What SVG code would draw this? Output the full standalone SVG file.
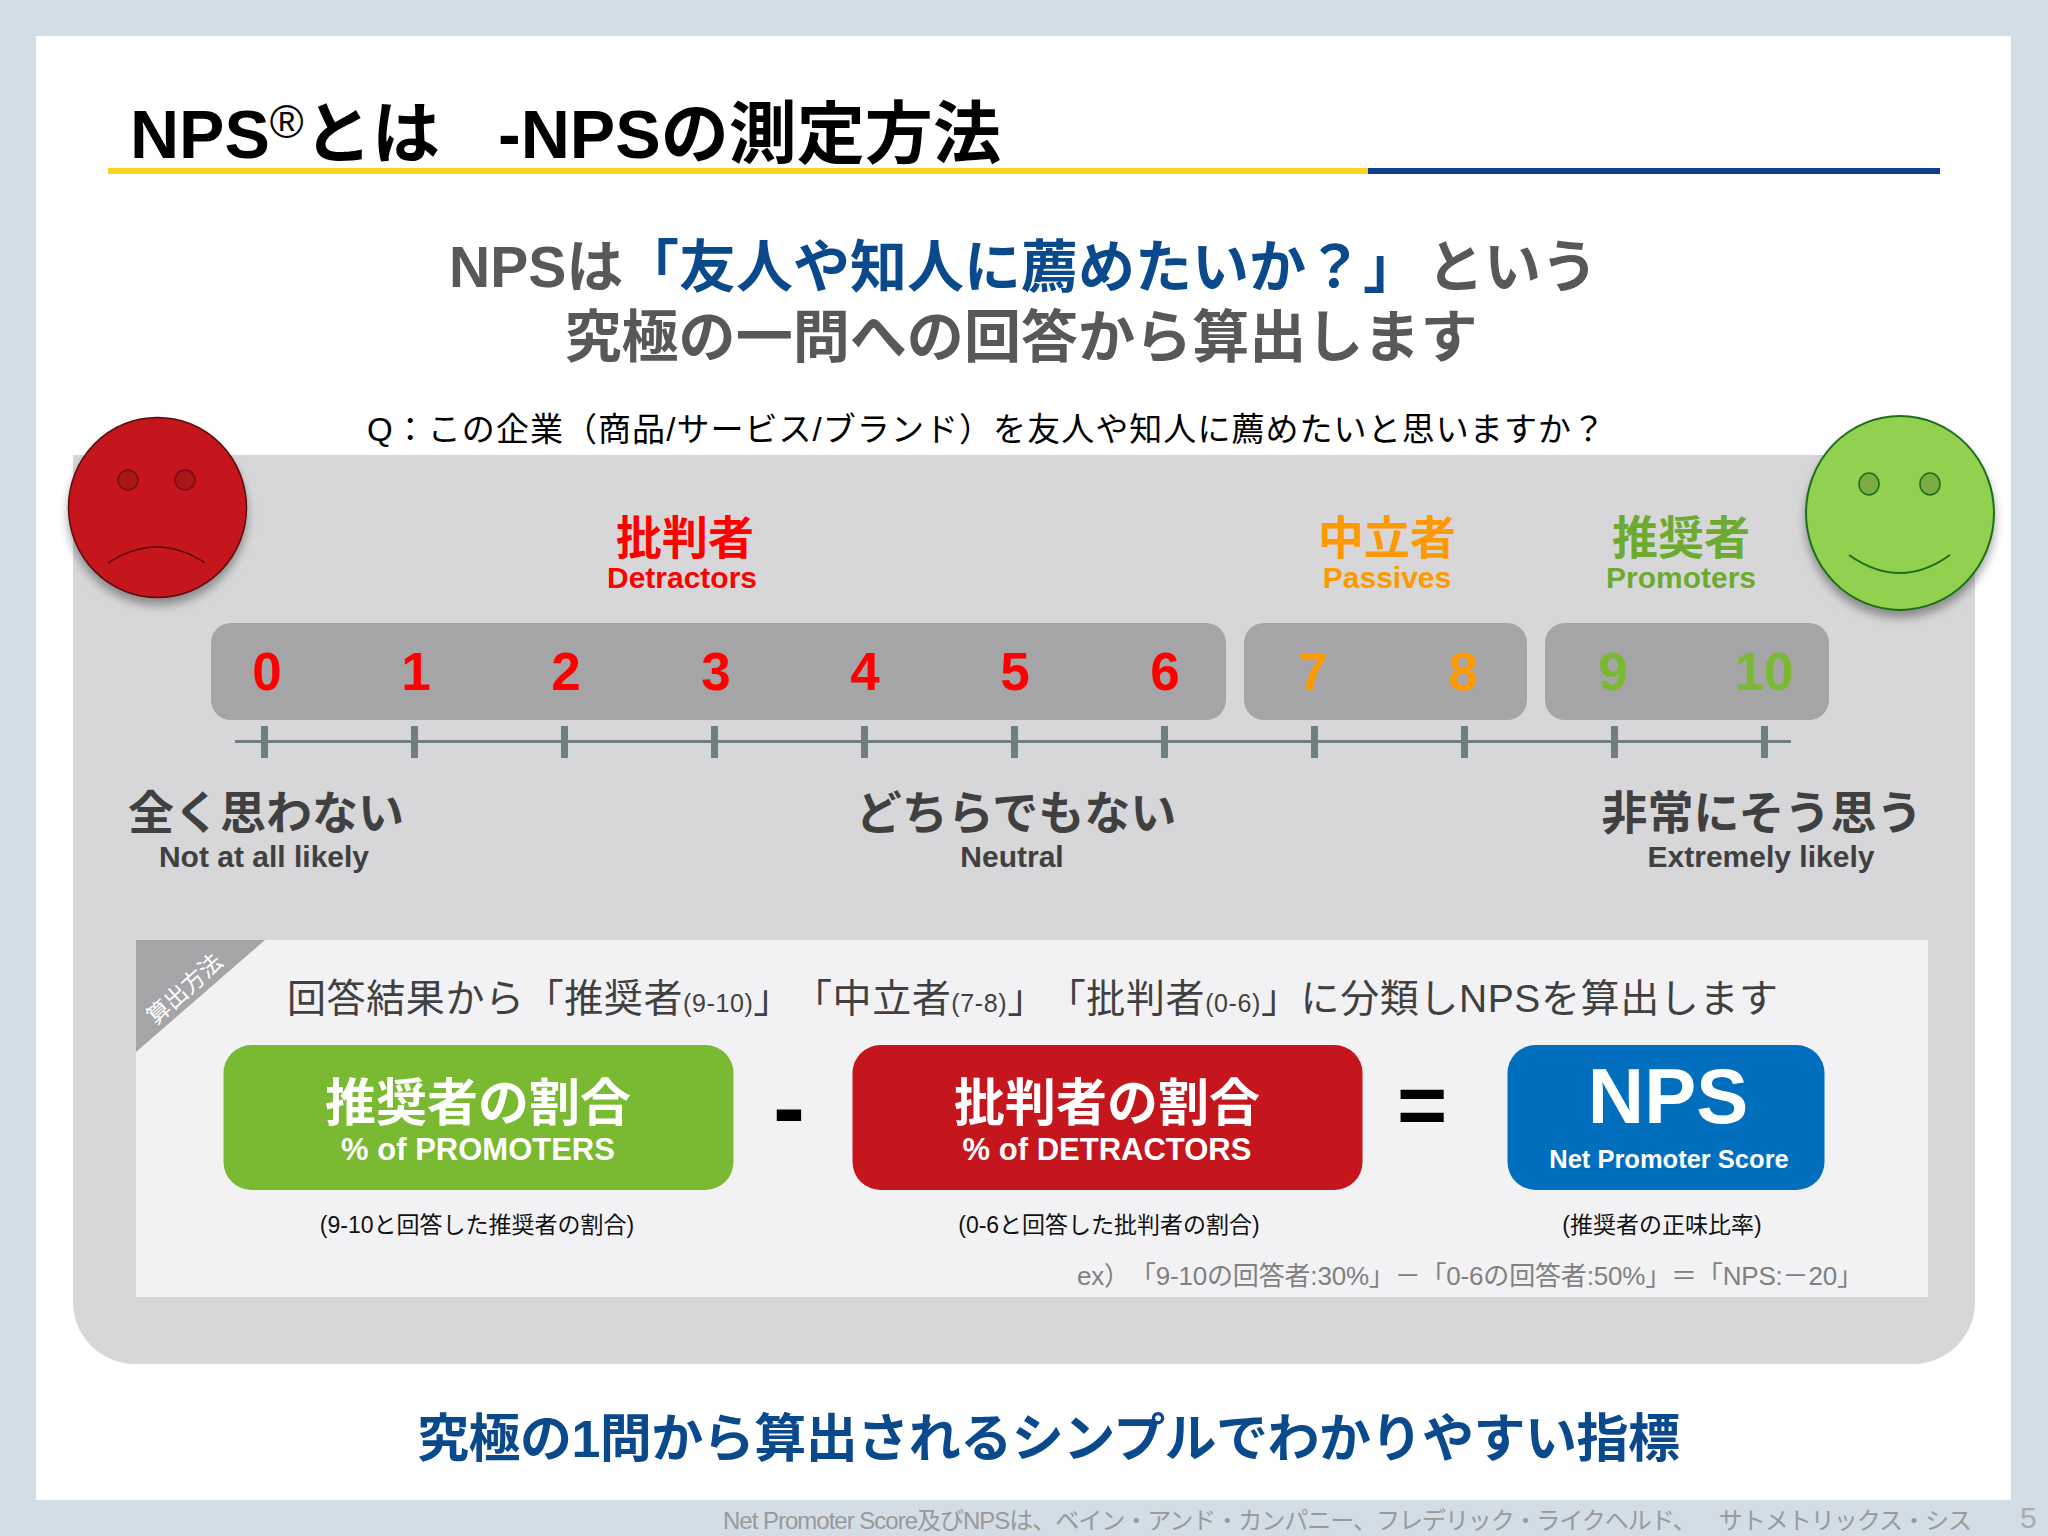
<svg xmlns="http://www.w3.org/2000/svg" width="2048" height="1536" viewBox="0 0 2048 1536">
<defs>
<style>
text{font-family:"Liberation Sans","Noto Sans CJK JP",sans-serif;text-spacing-trim:space-all}
.b{font-weight:700}
.c{text-anchor:middle}
.num{font-size:53px;font-weight:700;text-anchor:middle}
.red{fill:#ff0000}.org{fill:#ff9900}.grn{fill:#7ab932}.lgrn{fill:#6cab2f}
.dk{fill:#404040}
.tick{fill:#6f7f80}
.pill{fill:#a5a4a6}
.w{fill:#fff}
.cap{font-size:23px;fill:#111;text-anchor:middle}
.jp{font-size:46px;font-weight:700}
.en{font-size:30px;font-weight:700}
.sm{font-size:25px}
</style>
<filter id="sh" x="-20%" y="-20%" width="140%" height="140%"><feDropShadow dx="0" dy="7" stdDeviation="5" flood-color="#000" flood-opacity=".35"/></filter>
</defs>
<rect id="background" width="2048" height="1536" fill="#d3dde5"/>
<rect id="slide" x="36" y="36" width="1975" height="1464" fill="#fff"/>
<g id="title">
<text x="130" y="158" class="b" font-size="68" fill="#000">NPS<tspan font-size="46" dy="-20" font-weight="400">®</tspan><tspan dy="20" x="304">とは</tspan></text>
<text x="498" y="158" class="b" font-size="68" fill="#000" textLength="503" lengthAdjust="spacingAndGlyphs">-NPSの測定方法</text>
<rect x="108" y="168" width="1260" height="6" fill="#fcd21c"/>
<rect x="1368" y="168" width="572" height="6" fill="#0f3f8c"/>
</g>
<g id="headline" font-size="57">
<text x="449" y="287" fill="#58585a" font-weight="700">NPSは<tspan fill="#0a4a8c" x="622">「友人や知人に薦めたいか？」</tspan><tspan x="1427">という</tspan></text>
<text x="1021" y="357" class="c" fill="#58585a" font-weight="700" textLength="913" lengthAdjust="spacingAndGlyphs">究極の一問への回答から算出します</text>
</g>
<text id="question" x="367" y="441" font-size="33" fill="#000" textLength="1238" lengthAdjust="spacing">Q：この企業（商品/サービス/ブランド）を友人や知人に薦めたいと思いますか？</text>
<path id="panel" d="M73 455H1975V1302a62 62 0 0 1-62 62H135a62 62 0 0 1-62-62Z" fill="#d7d7d9"/>
<g id="face-sad" filter="url(#sh)">
<ellipse cx="157.500" cy="507.500" rx="89" ry="90" fill="#c4161c" stroke="#5c0d10" stroke-width="1.500"/>
<circle cx="128" cy="480" r="10" fill="#a81418" stroke="#7a0e12" stroke-width="1.500"/>
<circle cx="185" cy="480" r="10" fill="#a81418" stroke="#7a0e12" stroke-width="1.500"/>
<path d="M108 563Q157 531 205 563" fill="none" stroke="#5c0d10" stroke-width="1.500"/>
</g>
<g id="face-happy" filter="url(#sh)">
<ellipse cx="1900" cy="513" rx="94" ry="97" fill="#92d050" stroke="#1b6e1b" stroke-width="2"/>
<ellipse cx="1869" cy="484" rx="10" ry="11" fill="#7cab41" stroke="#1b6e1b" stroke-width="1.500"/>
<ellipse cx="1930" cy="484" rx="10" ry="11" fill="#7cab41" stroke="#1b6e1b" stroke-width="1.500"/>
<path d="M1849 555Q1900 591 1950 555" fill="none" stroke="#1b6e1b" stroke-width="2"/>
</g>
<g id="categories">
<g id="cat-detractors"><text x="685" y="554" class="jp c red">批判者</text><text x="682" y="588" class="en c red">Detractors</text></g>
<g id="cat-passives"><text x="1387" y="554" class="jp c org">中立者</text><text x="1387" y="588" class="en c org">Passives</text></g>
<g id="cat-promoters"><text x="1681" y="554" class="jp c lgrn">推奨者</text><text x="1681" y="588" class="en c lgrn">Promoters</text></g>
</g>
<g id="scale-pills">
<rect class="pill" x="211" y="623" width="1015" height="97" rx="20"/>
<rect class="pill" x="1244" y="623" width="283" height="97" rx="20"/>
<rect class="pill" x="1545" y="623" width="284" height="97" rx="20"/>
</g>
<g id="scale-numbers">
<text class="num red" x="267" y="690">0</text>
<text class="num red" x="416" y="690">1</text>
<text class="num red" x="566" y="690">2</text>
<text class="num red" x="716" y="690">3</text>
<text class="num red" x="865" y="690">4</text>
<text class="num red" x="1015" y="690">5</text>
<text class="num red" x="1165" y="690">6</text>
<text class="num org" x="1313" y="690">7</text>
<text class="num org" x="1463" y="690">8</text>
<text class="num grn" x="1613" y="690">9</text>
<text class="num grn" x="1764" y="690">10</text>
</g>
<g id="scale-axis">
<rect class="tick" x="235" y="740" width="1556" height="3"/>
<rect class="tick" x="261" y="726" width="7" height="32"/>
<rect class="tick" x="411" y="726" width="7" height="32"/>
<rect class="tick" x="561" y="726" width="7" height="32"/>
<rect class="tick" x="711" y="726" width="7" height="32"/>
<rect class="tick" x="861" y="726" width="7" height="32"/>
<rect class="tick" x="1011" y="726" width="7" height="32"/>
<rect class="tick" x="1161" y="726" width="7" height="32"/>
<rect class="tick" x="1311" y="726" width="7" height="32"/>
<rect class="tick" x="1461" y="726" width="7" height="32"/>
<rect class="tick" x="1611" y="726" width="7" height="32"/>
<rect class="tick" x="1761" y="726" width="7" height="32"/>
</g>
<g id="scale-labels">
<text x="266" y="829" class="jp c dk">全く思わない</text><text x="264" y="867" class="en c dk">Not at all likely</text>
<text x="1016" y="829" class="jp c dk">どちらでもない</text><text x="1012" y="867" class="en c dk">Neutral</text>
<text x="1762" y="829" class="jp c dk">非常にそう思う</text><text x="1761" y="867" class="en c dk">Extremely likely</text>
</g>
<g id="calc-box">
<rect x="136" y="940" width="1792" height="357" fill="#f2f2f4"/>
<path d="M136 940H265L136 1052Z" fill="#a5a4a6"/>
<text transform="translate(190 995) rotate(-42)" font-size="23" class="c w">算出方法</text>
<text x="287" y="1012" font-size="39" class="dk" textLength="1491" lengthAdjust="spacing">回答結果から「推奨者<tspan class="sm">(9-10)</tspan>」「中立者<tspan class="sm">(7-8)</tspan>」「批判者<tspan class="sm">(0-6)</tspan>」に分類しNPSを算出します</text>
</g>
<g id="node-promoters">
<rect x="223.500" y="1045" width="510" height="145" rx="28" fill="#7ab932"/>
<text x="478" y="1121" font-size="51" class="b c w">推奨者の割合</text>
<text x="478" y="1160" font-size="31" class="b c w">% of PROMOTERS</text>
<text x="477" y="1233" class="cap">(9-10と回答した推奨者の割合)</text>
</g>
<text id="op-minus" x="789" y="1140" font-size="96" class="b c" fill="#000">-</text>
<g id="node-detractors">
<rect x="852.500" y="1045" width="510" height="145" rx="28" fill="#c4161c"/>
<text x="1107" y="1121" font-size="51" class="b c w">批判者の割合</text>
<text x="1107" y="1160" font-size="31" class="b c w">% of DETRACTORS</text>
<text x="1109" y="1233" class="cap">(0-6と回答した批判者の割合)</text>
</g>
<text id="op-equals" x="1422" y="1134" font-size="86" class="b c" fill="#000">=</text>
<g id="node-nps">
<rect x="1507.500" y="1045" width="317" height="145" rx="28" fill="#026fbe"/>
<text x="1668" y="1123" font-size="78" class="b c w">NPS</text>
<text x="1669" y="1168" font-size="25.500" class="b c w">Net Promoter Score</text>
<text x="1662" y="1233" class="cap">(推奨者の正味比率)</text>
</g>
<text id="example" x="1077" y="1285" font-size="26" fill="#808080" textLength="786" lengthAdjust="spacing">ex）「9-10の回答者:30%」－「0-6の回答者:50%」＝「NPS:－20」</text>
<text id="conclusion" x="417" y="1457" font-size="52" class="b" fill="#0a4a8c" textLength="1263" lengthAdjust="spacing">究極の1問から算出されるシンプルでわかりやすい指標</text>
<text id="footnote" x="723" y="1529" font-size="24" fill="#999" textLength="1249" lengthAdjust="spacing">Net Promoter Score及びNPSは、ベイン・アンド・カンパニー、フレデリック・ライクヘルド、　サトメトリックス・シス</text>
<text id="page" x="2020" y="1528" font-size="30" fill="#aaa">5</text>
</svg>
